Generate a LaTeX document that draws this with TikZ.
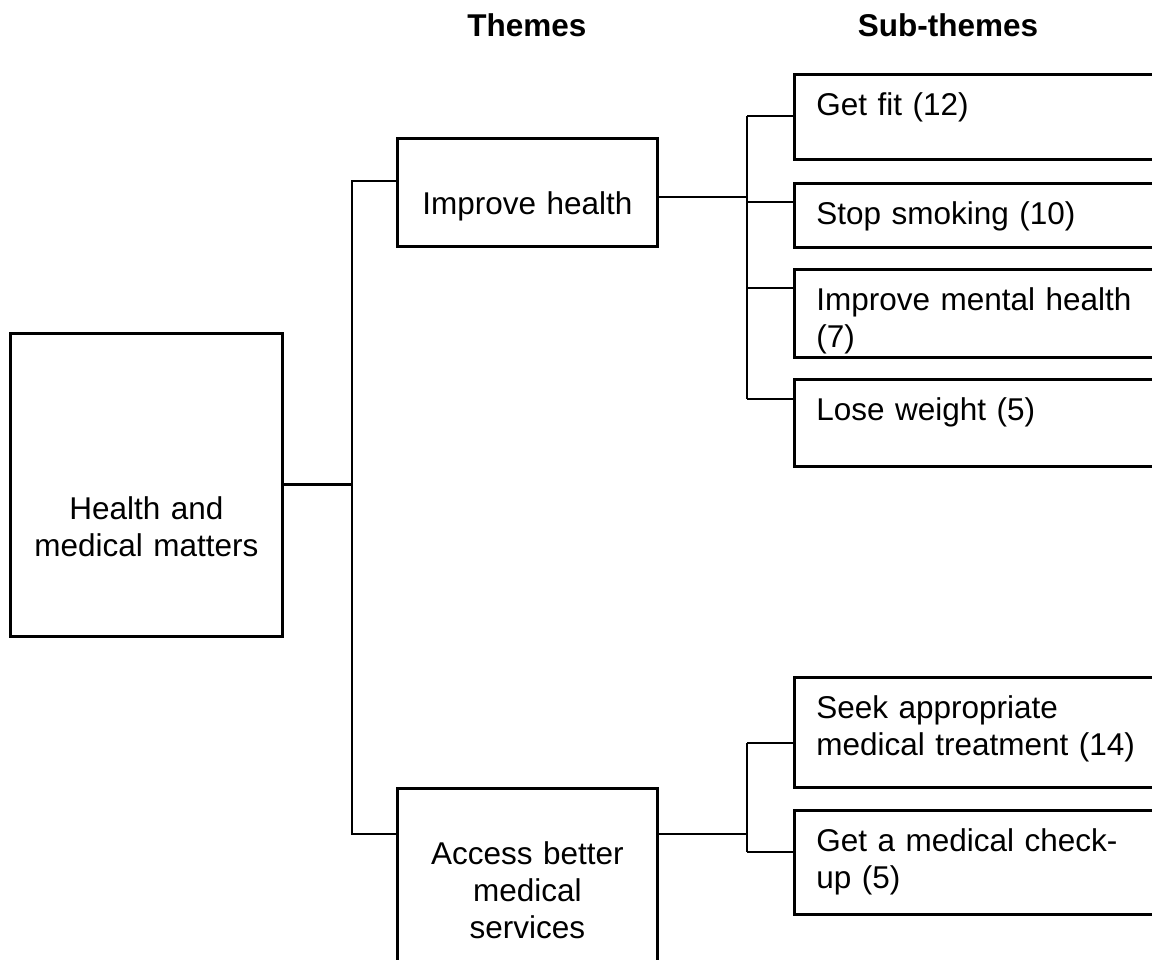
\documentclass[tikz,border=0pt]{standalone}
\usepackage{fontspec}
\setmainfont{Liberation Sans}

\begin{document}
\begin{tikzpicture}[
    line width=1.9pt,
    font=\fontsize{22.4}{26.3}\selectfont,
    themebox/.style={draw, anchor=north west, inner sep=0pt, text width=6.5cm, text height=1.9cm, align=center},
    subbox/.style={draw, anchor=north west, inner ysep=0pt, inner xsep=0.55cm, text width=8.9cm, text height=1.04cm, align=left},
    heading/.style={anchor=base, font=\fontsize{22.4}{26.3}\selectfont\bfseries},
]
\useasboundingbox (0,0) rectangle (28.8,-24);

\node[heading] (themes) at (13.175,-0.925) {Themes};
\node[heading] (subthemes) at (23.7,-0.925) {Sub-themes};

\node[themebox, text width=6.8cm, text height=4.65cm, text depth=2.925cm] (root) at (0.225,-8.3) {Health and\\medical matters};

\node[themebox, text depth=0.8cm] (improve) at (9.9,-3.425) {Improve health};
\node[themebox, text depth=2.93cm] (access) at (9.9,-19.675) {Access better\\medical\\services};

\node[subbox, text depth=1.085cm] (getfit) at (19.825,-1.825) {Get fit (12)};
\node[subbox, text depth=0.56cm] (stopsmoking) at (19.825,-4.55) {Stop smoking (10)};
\node[subbox, text depth=1.16cm] (mentalhealth) at (19.825,-6.7) {Improve mental health\\(7)};
\node[subbox, text depth=1.135cm] (loseweight) at (19.825,-9.45) {Lose weight (5)};
\node[subbox, text depth=1.71cm] (seektreatment) at (19.825,-16.9) {Seek appropriate\\medical treatment (14)};
\node[subbox, text depth=1.56cm] (checkup) at (19.825,-20.225) {Get a medical check-\\up (5)};

\coordinate (trunktop) at (8.8,-4.525);
\coordinate (trunkbot) at (8.8,-20.85);
\coordinate (forkup) at (18.675,-4.925);
\coordinate (forkdown) at (18.675,-20.85);
\foreach \sub/\y in {getfit/2.9, stopsmoking/5.05, mentalhealth/7.2, loseweight/9.975, seektreatment/18.575, checkup/21.3}
    \coordinate (to\sub) at (18.675,-\y);

\draw (root.east) -- (root.east -| trunktop);
\draw (improve.west |- trunktop) -- (trunktop) -- (trunkbot) -- (access.west |- trunkbot);
\draw (improve.east |- forkup) -- (forkup);
\draw (access.east |- forkdown) -- (forkdown);
\draw (togetfit) -- (toloseweight);
\draw (toseektreatment) -- (tocheckup);
\foreach \sub in {getfit, stopsmoking, mentalhealth, loseweight, seektreatment, checkup}
    \draw (to\sub) -- (to\sub -| \sub.west);

\end{tikzpicture}
\end{document}
